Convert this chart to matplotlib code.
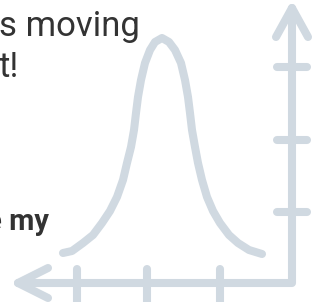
import numpy as np
import matplotlib
matplotlib.use("Agg")
import matplotlib.pyplot as plt

# bell curve (pixel units, y grows downward)
curve_x = [63, 72, 83, 93, 102, 110, 117, 123, 127, 131, 134, 136, 138, 141, 145, 150, 155, 162,
           169, 175, 181, 185, 188, 190, 192, 195, 198, 202, 207, 213, 220, 229, 238, 249, 262]
curve_y = [253, 251, 243, 235, 223, 211, 197, 180, 163, 147, 130, 113, 97, 80, 63, 50, 42, 38,
           42, 50, 63, 80, 97, 113, 130, 147, 163, 180, 197, 211, 223, 235, 243, 250, 254]

# axis frame
x_ticks = [77, 147, 220]
y_ticks = [67, 140, 212]
axis_x = 292
axis_y = 283

lines = ["s moving", "t!"]
bold_word = "e my"

ink = "#d0d9e1"
lw = 5.8

fig = plt.figure(figsize=(3.12, 3.02), dpi=100)
ax = fig.add_axes([0, 0, 1, 1])
ax.set_xlim(0, 312)
ax.set_ylim(302, 0)
ax.axis("off")

ax.plot(curve_x, curve_y, color=ink, lw=lw, solid_capstyle="round", solid_joinstyle="round")

# axes with arrows
ax.plot([axis_x, axis_x, 18], [8, axis_y, axis_y], color=ink, lw=lw,
        solid_capstyle="round", solid_joinstyle="round")
ax.plot([276, axis_x, 308], [37, 8, 37], color=ink, lw=lw,
        solid_capstyle="round", solid_joinstyle="round")
ax.plot([48, 18, 48], [268, axis_y, 298], color=ink, lw=lw,
        solid_capstyle="round", solid_joinstyle="round")
for t in y_ticks:
    ax.plot([277, 307], [t, t], color=ink, lw=lw, solid_capstyle="round")
for t in x_ticks:
    ax.plot([t, t], [269, 320], color=ink, lw=lw, solid_capstyle="round")

# text
ax.text(-1, 36, lines[0], fontsize=25, family="Roboto", color="#333333", va="baseline")
ax.text(-1, 77, lines[1], fontsize=25, family="Roboto", color="#333333", va="baseline")
ax.text(-14, 230, bold_word, fontsize=21, family="Roboto", weight="bold", color="#333333",
        va="baseline")

fig.savefig("out.png", dpi=100)
